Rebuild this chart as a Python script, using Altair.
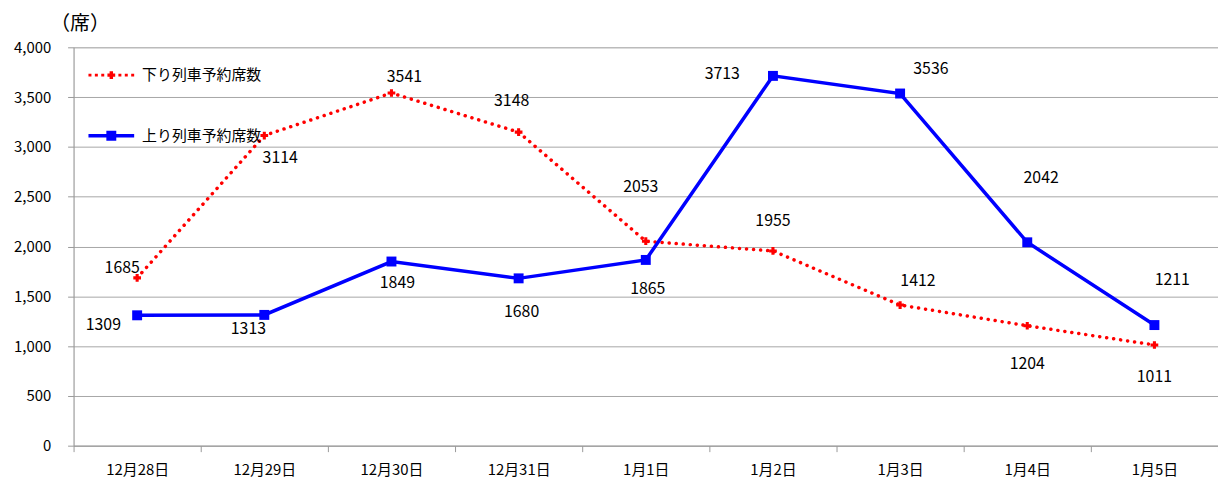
import altair as alt
import pandas as pd

dates = ["12月28日", "12月29日", "12月30日", "12月31日", "1月1日", "1月2日", "1月3日", "1月4日", "1月5日"]
down_seats = [1685, 3114, 3541, 3148, 2053, 1955, 1412, 1204, 1011]
up_seats = [1309, 1313, 1849, 1680, 1865, 3713, 3536, 2042, 1211]
series_names = ["下り列車予約席数", "上り列車予約席数"]
y_ticks = [0, 500, 1000, 1500, 2000, 2500, 3000, 3500, 4000]

# label offsets in pixels (styling only)
down_dx = [-15, 16, 13, -7, -5, 0, 18, 0, 0]
down_dy = [-10, 23, -16, -31, -55, -30, -24, 39, 32]
up_dx = [-34, -16, 6, 3, 2, -51, 31, 14, 18]
up_dy = [10, 14, 22, 34, 29, -2, -25, -65, -45]

FONT = "Noto Sans CJK JP"
RED = "#ff0000"
BLUE = "#0000ff"

rows = []
for d, v, dx, dy in zip(dates, down_seats, down_dx, down_dy):
    rows.append({"date": d, "series": series_names[0], "value": v, "dx": dx, "dy": dy})
for d, v, dx, dy in zip(dates, up_seats, up_dx, up_dy):
    rows.append({"date": d, "series": series_names[1], "value": v, "dx": dx, "dy": dy})
df = pd.DataFrame(rows)

x_enc = alt.X(
    "date:N",
    sort=dates,
    bandPosition=0.5,
    scale=alt.Scale(type="band", paddingInner=0, paddingOuter=0),
    axis=alt.Axis(
        title=None, tickBand="extent", grid=False, labelAngle=0,
        labelFontSize=15, labelFont=FONT, labelColor="#000000",
        tickSize=6, tickColor="#999999", domainColor="#999999",
        labelPadding=11,
    ),
)
y_enc = alt.Y(
    "value:Q",
    scale=alt.Scale(domain=[0, 4000]),
    axis=alt.Axis(
        values=y_ticks, format=",d", title="（席）", titleAngle=0,
        titleX=6, titleY=-24, titleAlign="center", titleBaseline="middle",
        titleFontSize=20, titleFontWeight="normal", titleFont=FONT, titleColor="#000000",
        labelFontSize=15, labelFont=FONT, labelColor="#000000",
        tickSize=6, tickColor="#999999", domainColor="#999999",
        gridColor="#a6a6a6", labelPadding=17,
    ),
)

base = alt.Chart(df)
down = base.transform_filter(alt.datum.series == series_names[0])
up = base.transform_filter(alt.datum.series == series_names[1])

down_line = down.mark_line(color=RED, strokeWidth=3.5, strokeDash=[0.1, 7], strokeCap="round").encode(x=x_enc, y=y_enc)
up_line = up.mark_line(color=BLUE, strokeWidth=3.5).encode(x=x_enc, y=y_enc)
down_pts = down.mark_point(shape="cross", filled=True, size=60, color=RED, opacity=1).encode(x=x_enc, y=y_enc)
up_pts = up.mark_point(shape="square", filled=True, size=100, color=BLUE, opacity=1).encode(x=x_enc, y=y_enc)
labels = base.mark_text(
    fontSize=16, font=FONT, color="#000000", align="center", baseline="middle",
    dx=alt.expr("datum.dx"), dy=alt.expr("datum.dy"),
).encode(x=x_enc, y=y_enc, text=alt.Text("value:Q", format="d"))

red_path = ("M-1,-0.065H-0.87V0.065H-1Z M-0.72,-0.065H-0.59V0.065H-0.72Z M-0.44,-0.065H-0.31V0.065H-0.44Z "
            "M0.31,-0.065H0.44V0.065H0.31Z M0.59,-0.065H0.72V0.065H0.59Z M0.87,-0.065H1V0.065H0.87Z "
            "M-0.075,-0.17H0.075V-0.075H0.17V0.075H0.075V0.17H-0.075V0.075H-0.17V-0.075H-0.075Z")
blue_path = "M-1,-0.076H1V0.076H-1Z M-0.217,-0.217H0.217V0.217H-0.217Z"

legend_df = pd.DataFrame({"series": series_names})
leg_props = dict(
    title=None, orient="none", legendX=15, legendY=5, direction="vertical",
    symbolSize=2116, symbolStrokeWidth=0, symbolOpacity=1,
    labelFontSize=15, labelFont=FONT, labelColor="#000000", labelOffset=8,
    rowPadding=30, padding=0,
)
legend_layer = alt.Chart(legend_df).mark_point(filled=True, opacity=0).encode(
    color=alt.Color("series:N", scale=alt.Scale(domain=series_names, range=[RED, BLUE]), legend=alt.Legend(**leg_props)),
    shape=alt.Shape("series:N", scale=alt.Scale(domain=series_names, range=[red_path, blue_path]), legend=alt.Legend(**leg_props)),
)

chart = alt.layer(down_line, up_line, down_pts, up_pts, labels, legend_layer).properties(
    width=1152, height=401,
    autosize=alt.AutoSizeParams(type="none"),
    padding={"left": 66, "top": 38, "right": 0, "bottom": 34},
).configure_view(stroke=None).configure(font=FONT)

chart.save("out.html", embed_options={"renderer": "svg", "actions": False})
